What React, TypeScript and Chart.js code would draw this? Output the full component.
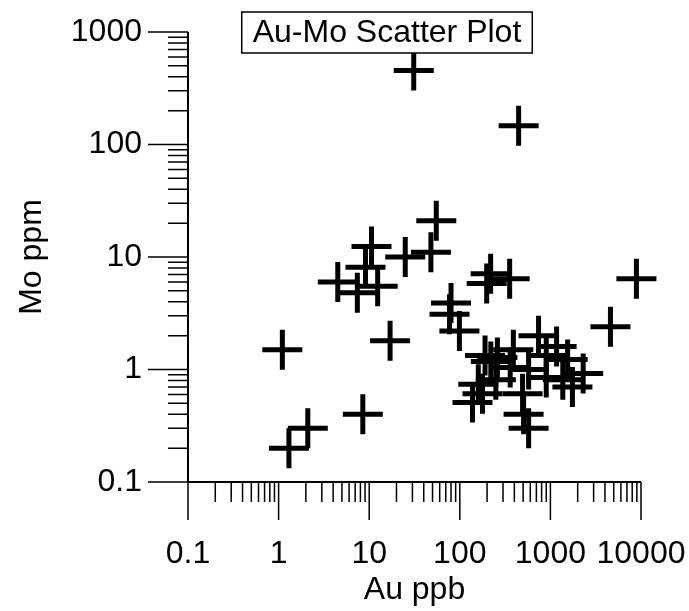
import React, { useEffect, useRef } from 'react';
import { Chart, registerables } from 'chart.js';

Chart.register(...registerables);

// Au (ppb) values of each sample
const auPpb = [
  31, 446, 55, 48, 25, 10.6, 9.1, 4.5, 12.4, 7.4,
  8900, 4600, 219, 198, 355, 80, 77, 99, 1.1, 17,
  8.5, 1.3, 2.1,
  740, 1170, 390, 260, 190, 220, 900, 1550, 2300, 1750,
  1370, 900, 575, 160, 178, 138, 493, 506, 575, 250, 360,
];
// Mo (ppm) values of each sample
const moPpm = [
  455, 147, 21, 11, 10, 12.4, 8.1, 6.0, 5.5, 4.8,
  6.4, 2.4, 7.1, 5.8, 6.4, 3.9, 3.1, 2.2, 1.5, 1.8,
  0.4, 0.2, 0.3,
  2.0, 1.6, 1.5, 1.28, 1.33, 1.18, 1.33, 1.23, 0.92, 0.7,
  0.81, 0.85, 1.0, 0.74, 0.61, 0.51, 0.61, 0.4, 0.3, 0.81, 1.04,
];

const xTickValues = [0.1, 1, 10, 100, 1000, 10000];
const xTickLabels = ['0.1', '1', '10', '100', '1000', '10000'];
const yTickValues = [0.1, 1, 10, 100, 1000];
const yTickLabels = ['0.1', '1', '10', '100', '1000'];

const chartTitle = 'Au-Mo Scatter Plot';
const xAxisTitle = 'Au ppb';
const yAxisTitle = 'Mo ppm';

const FONT = "'Liberation Sans', Arial, Helvetica, sans-serif";

function labelFor(values: number[], labels: string[], v: number): string {
  for (let i = 0; i < values.length; i++) {
    if (Math.abs(Math.log10(v) - Math.log10(values[i])) < 1e-6) return labels[i];
  }
  return '';
}

function zeroPadding(s: any) {
  s.paddingLeft = 0;
  s.paddingRight = 0;
  s.paddingTop = 0;
  s.paddingBottom = 0;
}

const axisTicksPlugin = {
  id: 'axisTicks',
  beforeDatasetsDraw(chart: any) {
    const ctx = chart.ctx;
    const xs = chart.scales.x;
    const ys = chart.scales.y;
    const area = chart.chartArea;
    ctx.save();
    ctx.strokeStyle = '#000';
    ctx.lineWidth = 2;
    ctx.beginPath();
    ctx.moveTo(area.left, area.top);
    ctx.lineTo(area.left, area.bottom);
    ctx.moveTo(area.left, area.bottom);
    ctx.lineTo(area.right, area.bottom);
    ctx.stroke();
    ctx.lineWidth = 1.5;
    ctx.beginPath();
    for (let k = 0; k < yTickValues.length; k++) {
      const d = yTickValues[k];
      const py = ys.getPixelForValue(d);
      ctx.moveTo(area.left - 40, py);
      ctx.lineTo(area.left, py);
      if (k < yTickValues.length - 1) {
        for (let m = 2; m <= 9; m++) {
          const p = ys.getPixelForValue(d * m);
          ctx.moveTo(area.left - 20, p);
          ctx.lineTo(area.left, p);
        }
      }
    }
    for (let k = 0; k < xTickValues.length; k++) {
      const d = xTickValues[k];
      const px = xs.getPixelForValue(d);
      ctx.moveTo(px, area.bottom);
      ctx.lineTo(px, area.bottom + 38);
      if (k < xTickValues.length - 1) {
        for (let m = 2; m <= 9; m++) {
          const p = xs.getPixelForValue(d * m);
          ctx.moveTo(p, area.bottom);
          ctx.lineTo(p, area.bottom + 20);
        }
      }
    }
    ctx.stroke();
    ctx.restore();
  },
};

const titleBoxPlugin = {
  id: 'titleBox',
  afterDatasetsDraw(chart: any) {
    const ctx = chart.ctx;
    ctx.save();
    ctx.font = `32px ${FONT}`;
    const w = ctx.measureText(chartTitle).width;
    const cx = 387;
    const left = cx - w / 2 - 11;
    const top = 12;
    const h = 41;
    ctx.fillStyle = '#fff';
    ctx.fillRect(left, top, w + 22, h);
    ctx.strokeStyle = '#000';
    ctx.lineWidth = 1.5;
    ctx.strokeRect(left, top, w + 22, h);
    ctx.fillStyle = '#000';
    ctx.textAlign = 'center';
    ctx.textBaseline = 'middle';
    ctx.fillText(chartTitle, cx, top + h / 2 + 1);
    ctx.restore();
  },
};

export default function App() {
  const ref = useRef<HTMLCanvasElement | null>(null);
  useEffect(() => {
    document.body.style.margin = '0';
    const canvas = ref.current;
    if (!canvas) return;
    const points = auPpb.map((x, i) => ({ x, y: moPpm[i] }));
    const chart = new Chart(canvas, {
      type: 'scatter',
      data: {
        datasets: [
          {
            label: 'Au-Mo',
            data: points,
            pointStyle: 'cross',
            pointRadius: 20,
            pointBorderWidth: 5,
            borderColor: '#000',
            backgroundColor: '#000',
            clip: false,
          },
        ],
      },
      options: {
        responsive: false,
        animation: false,
        devicePixelRatio: 1,
        layout: { padding: { top: 32, right: 48, bottom: 0, left: 0 } },
        plugins: {
          legend: { display: false },
          tooltip: { enabled: false },
          title: { display: false },
        },
        scales: {
          x: {
            type: 'logarithmic',
            min: 0.1,
            max: 10000,
            grid: { display: false, drawTicks: false },
            border: { display: false },
            ticks: {
              autoSkip: false,
              maxRotation: 0,
              minRotation: 0,
              padding: 53,
              color: '#000',
              font: { family: FONT, size: 32 },
              callback: (v: any) => labelFor(xTickValues, xTickLabels, Number(v)),
            },
            title: {
              display: true,
              text: xAxisTitle,
              color: '#000',
              font: { family: FONT, size: 32 },
              padding: { top: 0, bottom: 2 },
            },
            afterFit: (s: any) => {
              s.height = 611 - 482;
              zeroPadding(s);
            },
          },
          y: {
            type: 'logarithmic',
            min: 0.1,
            max: 1000,
            grid: { display: false, drawTicks: false },
            border: { display: false },
            ticks: {
              autoSkip: false,
              padding: 46,
              color: '#000',
              font: { family: FONT, size: 32 },
              callback: (v: any) => labelFor(yTickValues, yTickLabels, Number(v)),
            },
            title: {
              display: true,
              text: yAxisTitle,
              color: '#000',
              font: { family: FONT, size: 32 },
              padding: { top: 13, bottom: 0 },
            },
            afterFit: (s: any) => {
              s.width = 188;
              zeroPadding(s);
            },
          },
        },
      },
      plugins: [axisTicksPlugin, titleBoxPlugin],
    });
    return () => chart.destroy();
  }, []);
  return <canvas ref={ref} width={689} height={611} style={{ display: 'block' }} />;
}
